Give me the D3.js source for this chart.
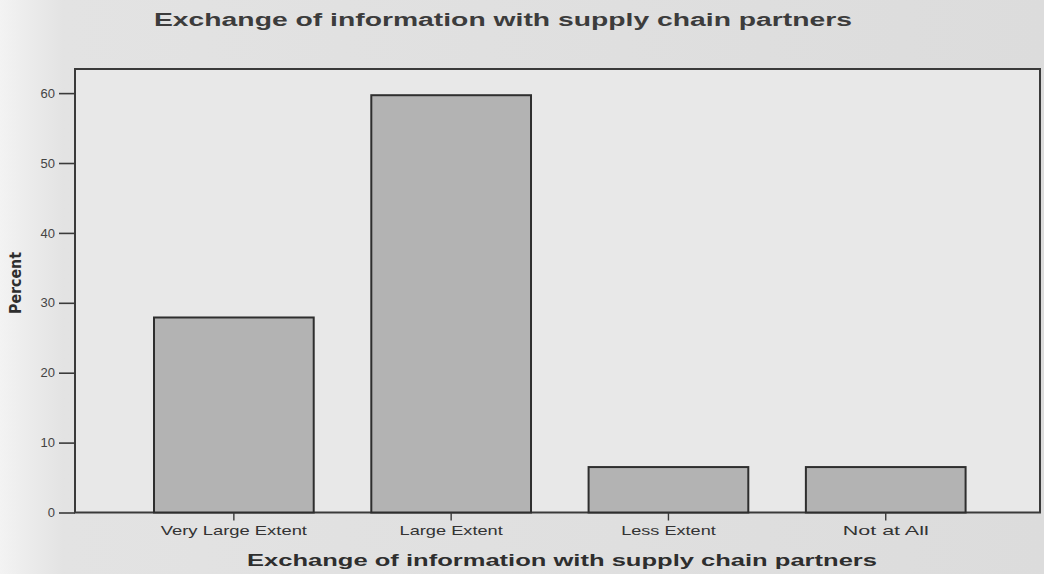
<!DOCTYPE html>
<html>
<head>
<meta charset="utf-8">
<script src="https://cdn.jsdelivr.net/npm/d3@7"></script>
<style>
  body { margin: 0; background: #dedede; }
  svg { display: block; }
</style>
</head>
<body>
<div id="chart"></div>
<script>
// values
var categories = ["Very Large Extent", "Large Extent", "Less Extent", "Not at All"];
var percents = [27.9, 59.7, 6.5, 6.5];
var yTicks = [0, 10, 20, 30, 40, 50, 60];
var titleText = "Exchange of information with supply chain partners";
var xTitleText = "Exchange of information with supply chain partners";
var yTitleText = "Percent";

var width = 1044, height = 574;
var plotLeft = 75, plotRight = 1040, plotTop = 69, plotBottom = 512.5;

var svg = d3.select("#chart").append("svg")
            .attr("width", width)
            .attr("height", height);

// page background, a bit whiter at the left edge like the scan
var grad = svg.append("defs").append("linearGradient")
              .attr("id", "bg")
              .attr("x1", 0).attr("x2", 1).attr("y1", 0).attr("y2", 0);
grad.append("stop").attr("offset", "0%").attr("stop-color", "#f3f3f3");
grad.append("stop").attr("offset", "6%").attr("stop-color", "#e3e3e3");
grad.append("stop").attr("offset", "100%").attr("stop-color", "#dcdcdc");

svg.append("rect")
   .attr("width", width)
   .attr("height", height)
   .attr("fill", "url(#bg)");

var x = d3.scaleBand()
          .domain(categories)
          .range([plotLeft, plotRight])
          .paddingInner(0.265)
          .paddingOuter(0.353)
          .align(0.515);

var y = d3.scaleLinear()
          .domain([0, 63.45])
          .range([plotBottom, plotTop]);

// plot area
svg.append("rect")
   .attr("x", plotLeft)
   .attr("y", plotTop)
   .attr("width", plotRight - plotLeft)
   .attr("height", plotBottom - plotTop)
   .attr("fill", "#e8e8e8")
   .attr("stroke", "#3a3a3a")
   .attr("stroke-width", 2);

// bars
svg.selectAll(".bar")
   .data(percents)
   .enter().append("rect")
   .attr("class", "bar")
   .attr("x", function(d, i) { return x(categories[i]); })
   .attr("y", function(d) { return y(d); })
   .attr("width", x.bandwidth())
   .attr("height", function(d) { return y(0) - y(d); })
   .attr("fill", "#b3b3b3")
   .attr("stroke", "#2e2e2e")
   .attr("stroke-width", 2);

// y axis
var yAxis = svg.append("g")
               .attr("transform", "translate(" + plotLeft + ",0)")
               .call(d3.axisLeft(y).tickValues(yTicks).tickSize(16).tickPadding(4));
yAxis.select(".domain").remove();
yAxis.selectAll("line").attr("stroke", "#3a3a3a").attr("stroke-width", 1.6);
yAxis.selectAll("text")
     .attr("fill", "#444")
     .style("font-family", "Liberation Sans, Arial, sans-serif")
     .style("font-size", "13px");

// x axis
var xAxis = svg.append("g")
               .attr("transform", "translate(0," + plotBottom + ")")
               .call(d3.axisBottom(x).tickSize(8).tickPadding(5));
xAxis.select(".domain").remove();
xAxis.selectAll("line").attr("stroke", "#3a3a3a").attr("stroke-width", 1.4);
xAxis.selectAll("text")
     .attr("fill", "#333")
     .style("font-family", "Liberation Sans, Arial, sans-serif")
     .style("font-size", "13px")
     .attr("textLength", function(d) { return d.length * 8.6; })
     .attr("lengthAdjust", "spacingAndGlyphs");

// titles
svg.append("text")
   .attr("x", 503)
   .attr("y", 26)
   .attr("text-anchor", "middle")
   .attr("textLength", 698)
   .attr("lengthAdjust", "spacingAndGlyphs")
   .attr("fill", "#3c3c3c")
   .style("font-family", "Liberation Sans, Arial, sans-serif")
   .style("font-weight", "bold")
   .style("font-size", "18px")
   .text(titleText);

svg.append("text")
   .attr("x", 562)
   .attr("y", 566)
   .attr("text-anchor", "middle")
   .attr("textLength", 630)
   .attr("lengthAdjust", "spacingAndGlyphs")
   .attr("fill", "#2e2e2e")
   .style("font-family", "Liberation Sans, Arial, sans-serif")
   .style("font-weight", "bold")
   .style("font-size", "16px")
   .text(xTitleText);

svg.append("text")
   .attr("transform", "translate(21,283) rotate(-90)")
   .attr("text-anchor", "middle")
   .attr("textLength", 62)
   .attr("lengthAdjust", "spacingAndGlyphs")
   .attr("fill", "#2e2e2e")
   .style("font-family", "DejaVu Sans Condensed, DejaVu Sans, sans-serif")
   .style("font-size", "16px")
   .style("font-weight", "bold")
   .text(yTitleText);
</script>
</body>
</html>
